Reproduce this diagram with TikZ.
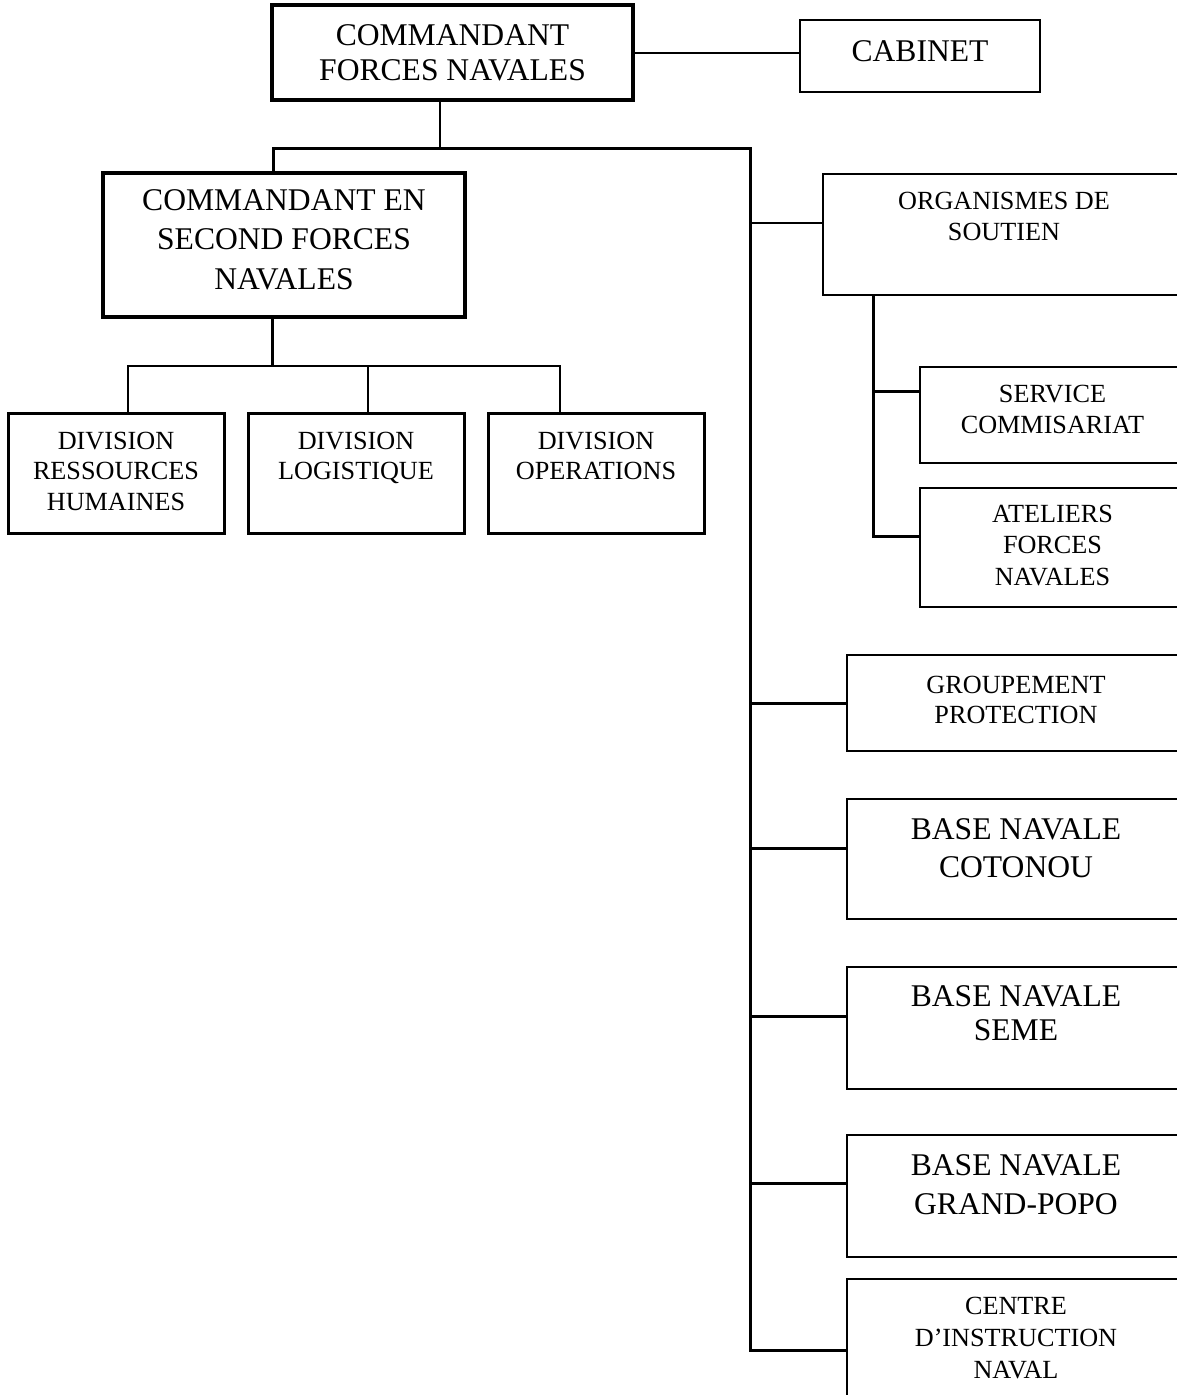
\documentclass[tikz,border=0pt]{standalone}
\usepackage{fontspec}
\setmainfont{Liberation Serif}
\usetikzlibrary{backgrounds}
\newcommand\bt[4]{\parbox[c][#2][t]{#1}{\centering\vspace*{#3}#4\par}}
\newcommand\bigf[1]{\fontsize{31.6}{#1}\selectfont}
\newcommand\smallf[1]{\fontsize{26.2}{#1}\selectfont}
\tikzset{
  bx/.style={draw=black, fill=white, inner sep=0pt, rectangle},
  bxthick/.style={bx, line width=3.2pt},
  bxmid/.style={bx, line width=3pt},
  bxnorm/.style={bx, line width=1.8pt},
  lnthick/.style={line width=3pt},
  lnnorm/.style={line width=2pt},
}
\begin{document}
\begin{tikzpicture}[x=1pt,y=-1pt]
\useasboundingbox (0,0) rectangle (1177,1395);
\clip (0,0) rectangle (1177,1395);

% boxes
\node[bxthick, minimum width=361pt, minimum height=95pt] (cfn) at (452.5,52.5)
  {\bt{361pt}{95pt}{19.5pt}{\bigf{35}COMMANDANT\\FORCES NAVALES}};
\node[bxnorm, minimum width=240pt, minimum height=72pt] (cab) at (920,56)
  {\bt{240pt}{72pt}{20.5pt}{\bigf{35}CABINET}};
\node[bxthick, minimum width=362pt, minimum height=144pt] (cesfn) at (284,245)
  {\bt{362pt}{144pt}{16.5pt}{\bigf{39.5}COMMANDANT EN\\SECOND FORCES\\NAVALES}};
\node[bxmid, minimum width=216pt, minimum height=120pt] (d1) at (116,473)
  {\bt{216pt}{120pt}{18.8pt}{\smallf{30.5}DIVISION\\RESSOURCES\\HUMAINES}};
\node[bxmid, minimum width=216pt, minimum height=120pt] (d2) at (356,473)
  {\bt{216pt}{120pt}{18.8pt}{\smallf{30.5}DIVISION\\LOGISTIQUE}};
\node[bxmid, minimum width=216pt, minimum height=120pt] (d3) at (596,473)
  {\bt{216pt}{120pt}{18.8pt}{\smallf{30.5}DIVISION\\OPERATIONS}};
\node[bxnorm, minimum width=362pt, minimum height=121pt] (org) at (1004,234.5)
  {\bt{362pt}{121pt}{17.8pt}{\smallf{31}ORGANISMES DE\\SOUTIEN}};
\node[bxnorm, minimum width=265pt, minimum height=96pt] (svc) at (1052.5,415)
  {\bt{265pt}{96pt}{17.8pt}{\smallf{31}SERVICE\\COMMISARIAT}};
\node[bxnorm, minimum width=265pt, minimum height=119pt] (ate) at (1052.5,547.5)
  {\bt{265pt}{119pt}{16.8pt}{\smallf{31.5}ATELIERS\\FORCES\\NAVALES}};
\node[bxnorm, minimum width=338pt, minimum height=96pt] (grp) at (1016,703)
  {\bt{338pt}{96pt}{20.8pt}{\smallf{30}GROUPEMENT\\PROTECTION}};
\node[bxnorm, minimum width=338pt, minimum height=120pt] (cot) at (1016,859)
  {\bt{338pt}{120pt}{19.5pt}{\bigf{38}BASE NAVALE\\COTONOU}};
\node[bxnorm, minimum width=338pt, minimum height=122pt] (seme) at (1016,1028)
  {\bt{338pt}{122pt}{18.5pt}{\bigf{34}BASE NAVALE\\SEME}};
\node[bxnorm, minimum width=338pt, minimum height=122pt] (gp) at (1016,1196)
  {\bt{338pt}{122pt}{19.5pt}{\bigf{39}BASE NAVALE\\GRAND-POPO}};
\node[bxnorm, minimum width=338pt, minimum height=142pt] (cen) at (1016,1350)
  {\bt{338pt}{142pt}{17.8pt}{\smallf{32}CENTRE\\D’INSTRUCTION\\NAVAL}};

% junction coordinates
\coordinate (j0) at (440,148);
\coordinate (j1) at (273,148);
\coordinate (j2) at (750,148);
\coordinate (b1) at (750,223);
\coordinate (b3) at (750,848);
\coordinate (b4) at (750,1016);
\coordinate (b5) at (750,1183);
\coordinate (s1) at (873,391);
\coordinate (s2) at (873,536);
\coordinate (k0) at (272,366);
\coordinate (k1) at (128,366);
\coordinate (k2) at (368,366);
\coordinate (k3) at (560,366);

\begin{scope}[on background layer]
\draw[lnnorm] (j0) -- (j0 |- cfn.south);
\draw[lnthick] (j1 |- cesfn.north) -- (j1) -- (j2) -- (j2 |- cen.west) -- (cen.west);
\draw[lnnorm] (b1) -- (b1 -| org.west);
\draw[lnthick] (j2 |- grp.west) -- (grp.west);
\draw[lnthick] (b3) -- (b3 -| cot.west);
\draw[lnthick] (b4) -- (b4 -| seme.west);
\draw[lnthick] (b5) -- (b5 -| gp.west);
\draw[lnthick] (s2 |- org.south) -- (s2) -- (s2 -| ate.west);
\draw[lnthick] (s1) -- (s1 -| svc.west);
\draw[lnthick] (k0 |- cesfn.south) -- (k0);
\draw[lnnorm] (k1 |- d1.north) -- (k1) -- (k3) -- (k3 |- d3.north);
\draw[lnnorm] (k2) -- (k2 |- d2.north);
\draw[lnnorm] (cfn.east) -- (cfn.east -| cab.west);
\end{scope}
\end{tikzpicture}
\end{document}
